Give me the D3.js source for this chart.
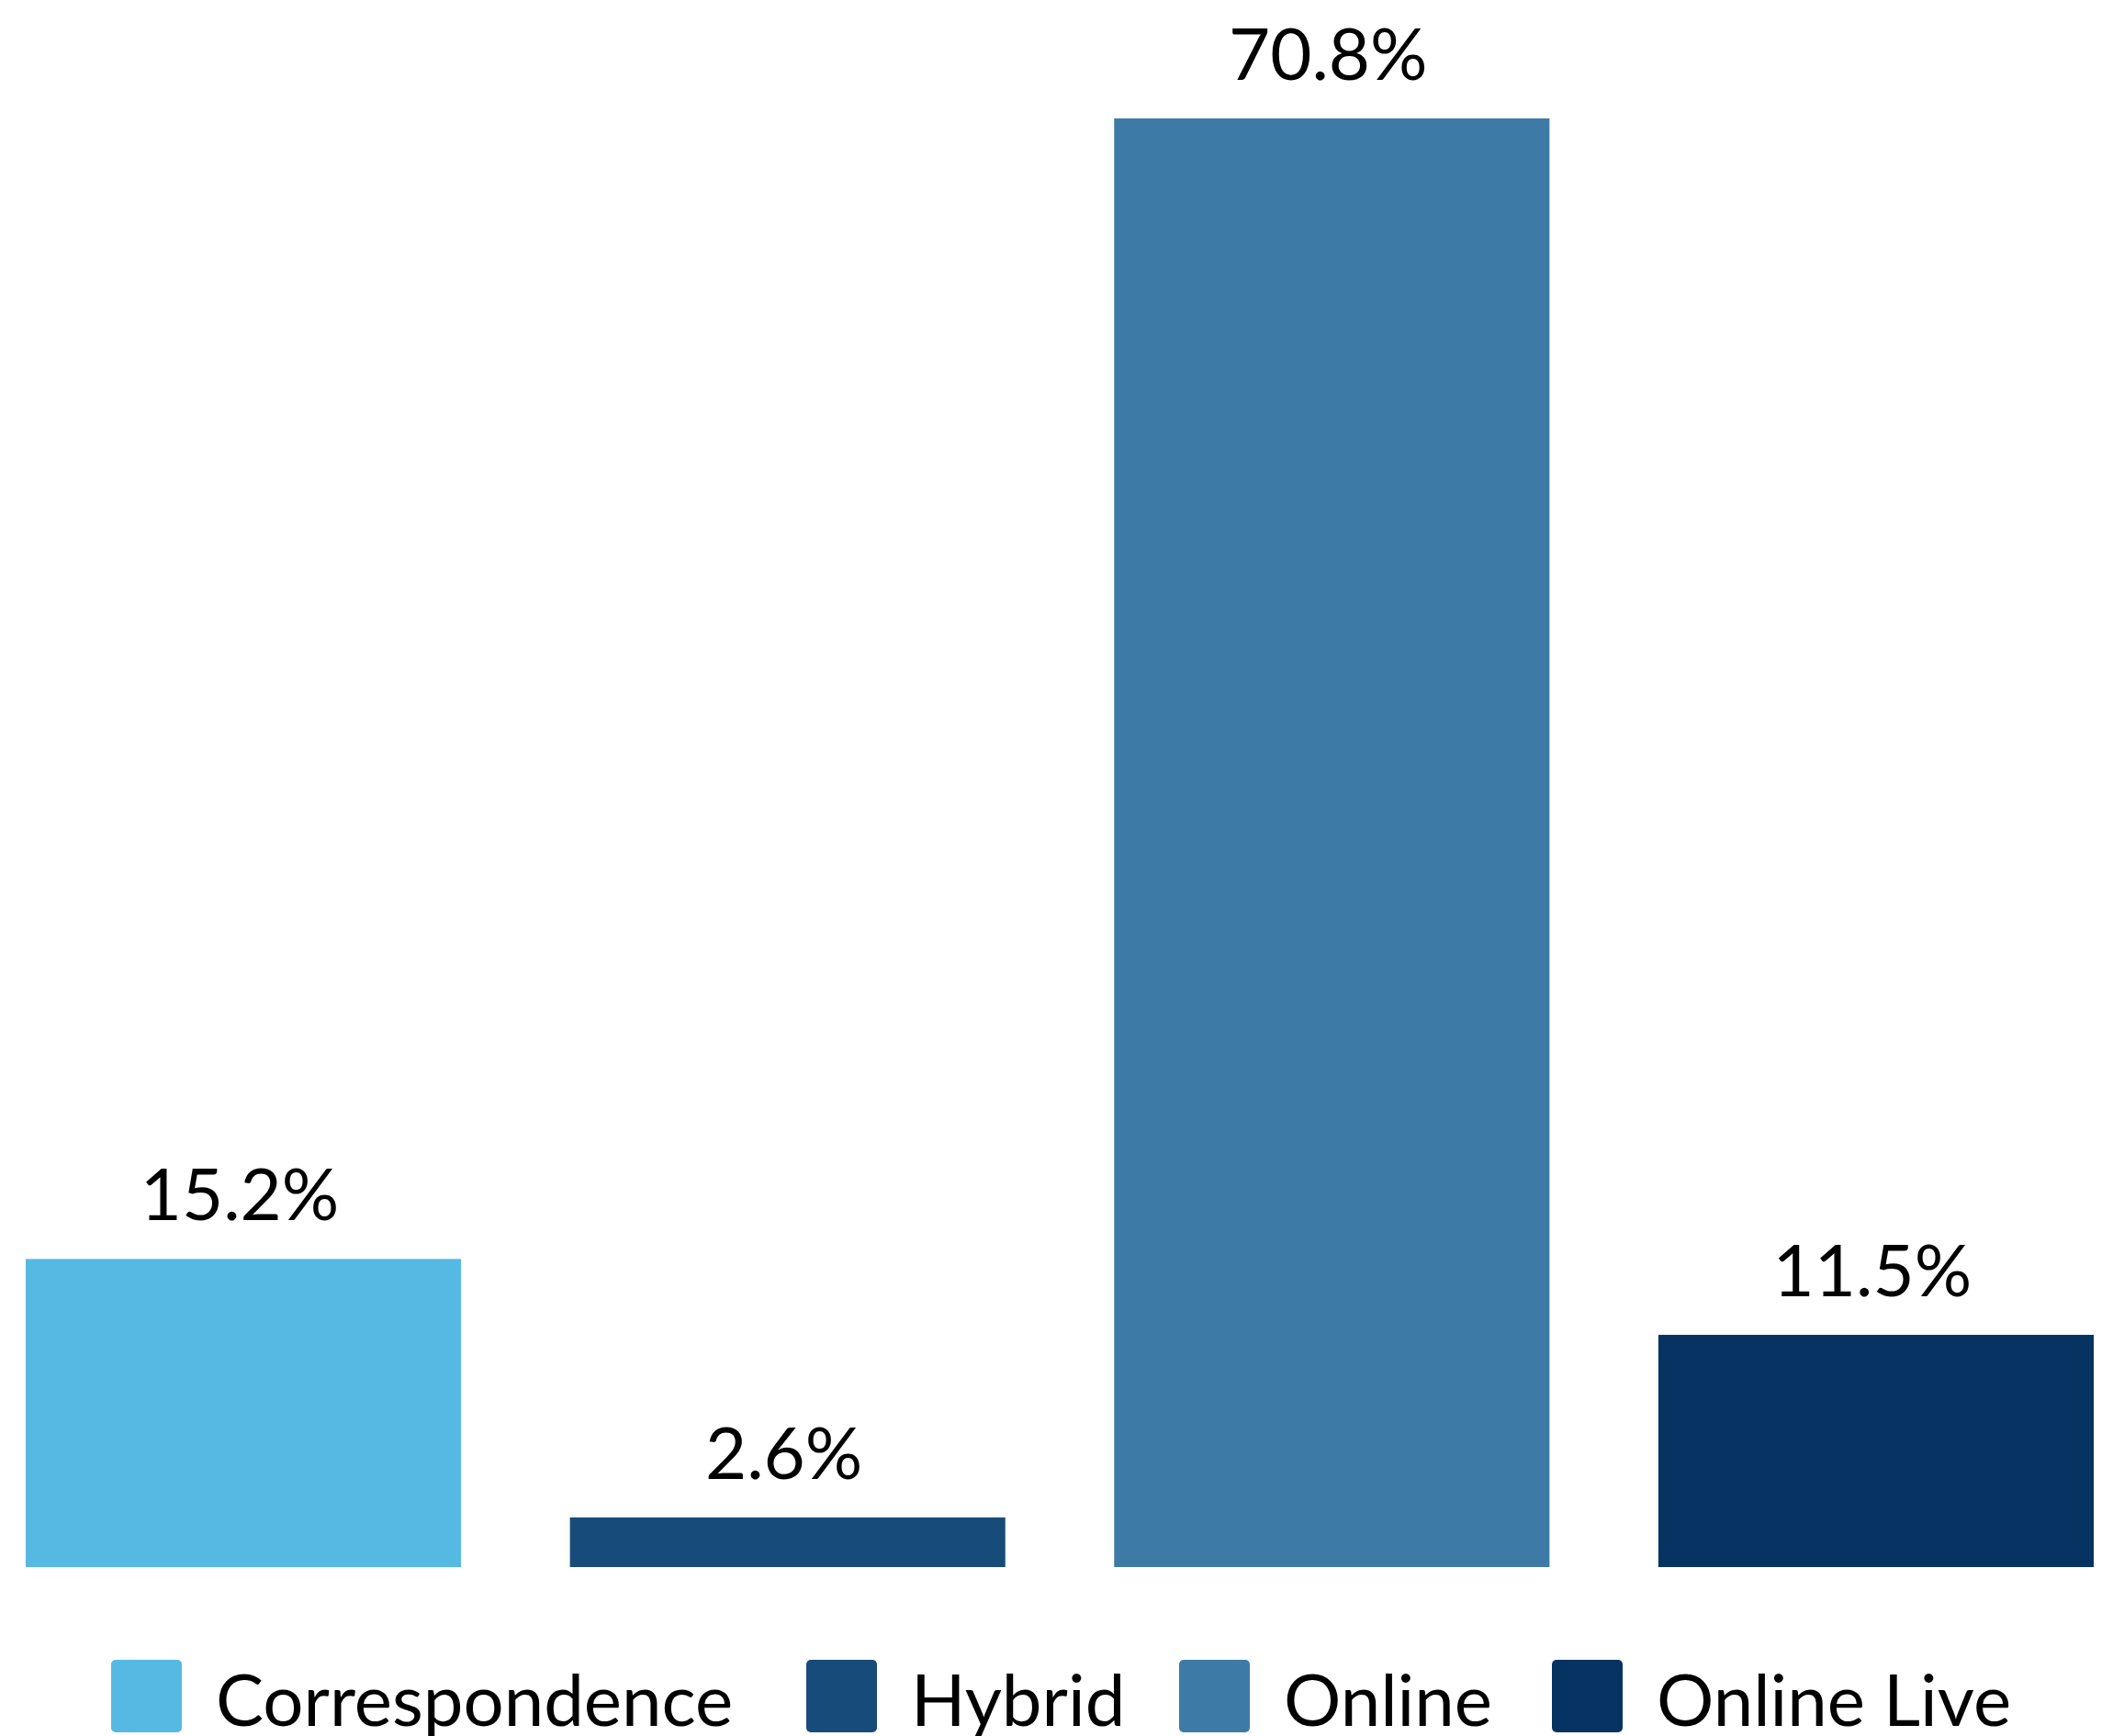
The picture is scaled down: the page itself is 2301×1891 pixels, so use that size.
<!DOCTYPE html>
<html><head><meta charset="utf-8">
<script src="https://cdn.jsdelivr.net/npm/d3@7"></script>
<style>html,body{margin:0;padding:0;background:#fff;}svg{display:block;}</style>
</head><body>
<svg id="chart" width="2301" height="1891"></svg>
<script>
const categories = ["Correspondence", "Hybrid", "Online", "Online Live"];
const values = [15.2, 2.6, 70.8, 11.5];
const colors = ["#56B9E3", "#174C7A", "#3D7BA6", "#063362"];

const svg = d3.select("#chart");
const font = "Lato, 'Open Sans', sans-serif";

const x = d3.scaleBand().domain(categories).range([28, 2280]).paddingInner(0.2).paddingOuter(0);
const y = d3.scaleLinear().domain([0, 70.8]).range([1711, 129]);
const baseY = 1707;

svg.selectAll("rect.bar").data(categories).join("rect")
  .attr("class", "bar")
  .attr("x", d => x(d))
  .attr("width", x.bandwidth())
  .attr("y", (d, i) => y(values[i]))
  .attr("height", (d, i) => baseY - y(values[i]))
  .attr("fill", (d, i) => colors[i]);

svg.selectAll("text.lbl").data(categories).join("text")
  .attr("class", "lbl")
  .attr("x", d => x(d) + x.bandwidth() / 2 - 4)
  .attr("y", (d, i) => y(values[i]) - 42)
  .attr("text-anchor", "middle")
  .attr("font-family", font)
  .attr("font-size", 78)
  .attr("fill", "#000")
  .text((d, i) => values[i].toFixed(1) + "%");

// legend (layout positions)
const legendX = [121, 878, 1284, 1690];
const legend = svg.append("g");
categories.forEach((c, i) => {
  const lx = legendX[i];
  legend.append("rect")
    .attr("x", lx).attr("y", 1808).attr("width", 77).attr("height", 79)
    .attr("rx", 5).attr("ry", 5).attr("fill", colors[i]);
  legend.append("text")
    .attr("x", lx + 114).attr("y", 1880)
    .attr("font-family", font).attr("font-size", 78).attr("fill", "#000")
    .text(c);
});
</script>
</body></html>
